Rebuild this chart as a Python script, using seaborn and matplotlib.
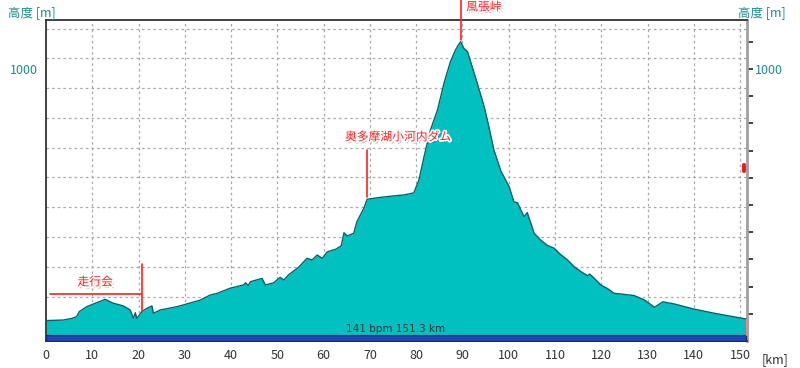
import numpy as np
import pandas as pd
import matplotlib
matplotlib.use("Agg")
import matplotlib.pyplot as plt
import matplotlib.patheffects as pe
import seaborn as sns

# elevation profile (distance km, elevation m)
dist_km = [0, 3.7, 5.6, 6.6, 7.2, 8.8, 11.0, 12.8, 14.5, 16.7, 18.2, 18.9, 19.3, 19.6,
           20.2, 20.7, 21.8, 22.9, 23.2, 24.7, 28.3, 33.3, 35.5, 37.0, 39.8, 42.7, 43.1,
           43.7, 44.2, 46.7, 47.4, 49.2, 50.6, 51.4, 52.4, 54.6, 56.4, 57.5, 58.6, 59.7,
           60.8, 62.6, 63.8, 64.4, 65.1, 66.5, 67.2, 68.7, 69.4, 72.3, 75.0, 77.4, 79.1,
           79.5, 80.6, 81.7, 83.1, 84.6, 86.0, 87.4, 88.5, 89.0, 89.6, 90.3, 91.1, 92.1,
           93.2, 94.7, 95.7, 96.8, 98.3, 100.1, 101.1, 101.9, 103.3, 104.0, 105.5, 106.9,
           108.3, 109.8, 111.2, 112.7, 114.2, 115.6, 117.0, 117.5, 118.5, 119.9, 121.4,
           122.8, 124.2, 126.0, 127.1, 129.3, 131.5, 133.3, 135.8, 140.1, 144.4, 150.6,
           151.3]
elev_m = [75, 77, 83, 89, 108, 126, 141, 153, 139, 129, 114, 83, 104, 83,
          96, 108, 120, 129, 102, 114, 126, 150, 169, 175, 194, 206, 214,
          204, 218, 230, 206, 214, 234, 224, 243, 271, 304, 298, 316, 304,
          328, 337, 350, 398, 386, 396, 439, 488, 521, 528, 533, 537, 543,
          545, 592, 678, 776, 849, 947, 1027, 1070, 1085, 1100, 1076, 1063, 1008,
          947, 861, 788, 702, 625, 567, 512, 508, 457, 472, 396, 371,
          352, 341, 318, 298, 272, 255, 240, 246, 230, 206, 192,
          175, 173, 169, 167, 151, 124, 144, 136, 117, 102, 83,
          81]

# annotations
marks = ["走行会", "奥多摩湖小河内ダム", "風張峠"]
mark_km = [20.85, 69.3, 89.7]
summary = "141 bpm 151.3 km"

x_ticks = list(range(0, 151, 10))
y_ticks = list(range(100, 1200, 100))
y_labels = ["1000" if v == 1000 else "" for v in y_ticks]

df = pd.DataFrame({"km": dist_km, "m": elev_m})

sns.set_style("white")
plt.rcParams["font.family"] = ["Noto Sans CJK JP", "DejaVu Sans"]

teal = "#1f8c8c"
fig = plt.figure(figsize=(8, 3.68), dpi=100)
ax = fig.add_axes([0.0575, 0.0734, 0.8763, 0.8723])

# grid
grid_kw = dict(color="#a8a8a8", lw=0.9, ls=(0, (2, 2.5)), zorder=0)
for v in x_ticks[1:]:
    ax.axvline(v, **grid_kw)
for k in range(11):
    ax.axhline(54 + 109.4 * k, **grid_kw)

ax.fill_between(df["km"], 0, df["m"], color="#00c0c0", lw=0, zorder=2)
sns.lineplot(data=df, x="km", y="m", ax=ax, color="#0c5f66", lw=1.0, zorder=3)

# heart-rate band
ax.fill_between([dist_km[0], dist_km[-1]], 0, 22, color="#2142b4",
                edgecolor="#14287a", lw=0.8, zorder=4)
ax.text(75.5, 44, summary, ha="center", va="center", fontsize=7.5,
        color="#333333", family=["DejaVu Sans"], zorder=5)

halo = [pe.SimplePatchShadow(offset=(1.5, -1.5), alpha=0.35),
        pe.withStroke(linewidth=2.5, foreground="white")]
red = "#ff2020"
# 走行会
ax.plot([0.9, 20.6], [173, 173], color=red, lw=1.2, zorder=6)
ax.plot([mark_km[0]] * 2, [283, 108], color=red, lw=1.2, zorder=6)
ax.text(10.6, 217, marks[0], ha="center", va="center", fontsize=8.5,
        color=red, path_effects=halo, zorder=7)
# 奥多摩湖小河内ダム
ax.plot([mark_km[1]] * 2, [702, 529], color=red, lw=1.2, zorder=6)
ax.text(64.6, 750, marks[1], ha="left", va="center", fontsize=8.5,
        color=red, path_effects=halo, zorder=7)
# 風張峠
ax.plot([mark_km[2]] * 2, [1254, 1107], color=red, lw=1.2, zorder=6, clip_on=False)
ax.text(90.8, 1228, marks[2], ha="left", va="center", fontsize=8.5,
        color=red, path_effects=halo, zorder=7, clip_on=False)

# small end markers
ax.plot([150.8, 150.8], [625, 647], color="#e82020", lw=3, zorder=6)
ax.plot([151.3, 151.3], [22, 81], color="#ff8080", lw=0.8, zorder=6)

ax.set_xlim(0, 151.5)
ax.set_ylim(0, 1180)
ax.set_xticks(x_ticks)
ax.set_yticks(y_ticks)
ax.set_yticklabels(y_labels)
ax.tick_params(axis="x", colors="#333333", labelsize=9, length=0, pad=6)
ax.tick_params(axis="y", colors="#222222", labelcolor=teal, labelsize=9,
               length=4, width=1.2, direction="out", right=True, labelright=True, pad=2)
ax.set_xlabel("")
ax.set_ylabel("")

for s in ["left", "top", "bottom"]:
    ax.spines[s].set_color("#333333")
    ax.spines[s].set_linewidth(1.3)
ax.spines["right"].set_color("#a0a0a0")
ax.spines["right"].set_linewidth(2)

fig.text(0.01, 0.967, "高度 [m]", color=teal, fontsize=9, va="center", ha="left")
fig.text(0.982, 0.967, "高度 [m]", color=teal, fontsize=9, va="center", ha="right")
fig.text(0.952, 0.022, "[km]", color="#333333", fontsize=9, va="center", ha="left")

fig.savefig("out.png", dpi=100, facecolor="white")
plt.close(fig)
